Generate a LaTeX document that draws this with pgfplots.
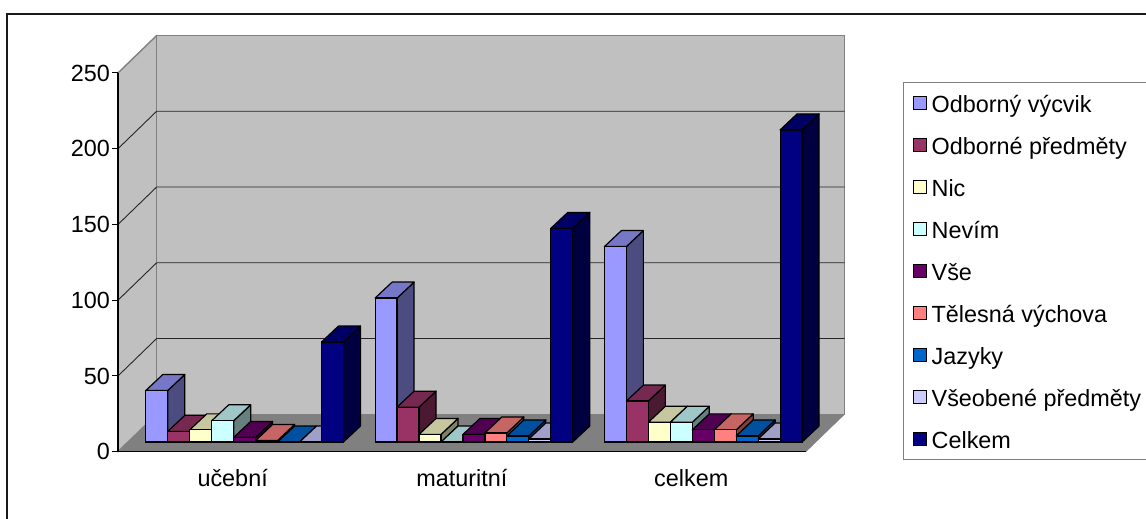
\documentclass[border=0pt]{standalone}
\usepackage{fontspec}
\setmainfont{Liberation Sans}
\usepackage{pgfplots}
\usepackage{pgfplotstable}
\pgfplotsset{compat=1.18}

\definecolor{c1}{HTML}{9999FF}
\definecolor{c2}{HTML}{993366}
\definecolor{c3}{HTML}{FFFFCC}
\definecolor{c4}{HTML}{CCFFFF}
\definecolor{c5}{HTML}{660066}
\definecolor{c6}{HTML}{FF8080}
\definecolor{c7}{HTML}{0066CC}
\definecolor{c8}{HTML}{CCCCFF}
\definecolor{c9}{HTML}{000080}
\definecolor{wall}{HTML}{C0C0C0}
\definecolor{floorc}{HTML}{808080}

\pgfdeclareplotmark{void}{}

\pgfplotstableread{
cat vycvik predmety nic nevim vse telesna jazyky vseob celkem
0   34     7        8   14    3   1       0      0     66
1   95     23       5   0     5   6       4      2     141
2   129    27       13  13    8   8       4      2     206
}\stat

% one bar series: depth faces first, then the front face
\newcommand{\barserie}[3]{%
\addplot[forget plot, only marks, scatter, mark=void,
  visualization depends on={y\as\yv},
  scatter/@pre marker code/.code={%
    \pgfmathsetmacro\hh{\yv*1.515}%
    \pgfmathsetmacro\xl{(#2)*21.96-10.98}%
    \pgfmathsetmacro\xr{(#2)*21.96+10.98}%
    \pgfmathsetmacro\xla{\xl+17}%
    \pgfmathsetmacro\xra{\xr+17}%
    \pgfmathsetmacro\yb{16-\hh}%
    \filldraw[fill=#3!50!black,draw=black,line width=1.2pt,line join=round]
      (\xr pt,0pt)--(\xra pt,16pt)--(\xra pt,\yb pt)--(\xr pt,-\hh pt)--cycle;
    \filldraw[fill=#3!78!black,draw=black,line width=1.2pt,line join=round]
      (\xl pt,0pt)--(\xr pt,0pt)--(\xra pt,16pt)--(\xla pt,16pt)--cycle;
  },
  scatter/@post marker code/.code={}]
  table[x=cat,y=#1]{\stat};
\addplot[ybar, bar width=21.96pt, bar shift=#2*21.96pt, draw=black,
  line width=1.2pt, fill=#3]
  table[x=cat,y=#1]{\stat};
}

\begin{document}
\begin{tikzpicture}[x=1pt,y=1pt]
\useasboundingbox (0,0) rectangle (1146,-519);
\draw[line width=2pt,black!90] (7,-519)--(7,-14)--(1146,-14);

% walls, floor, ticks and labels
\begin{axis}[
  at={(118pt,-451.7pt)}, anchor=south west,
  x=229.3pt, y=1.515pt,
  xmin=-0.5, xmax=2.5, ymin=0, ymax=250,
  clip=false, axis on top=true,
  axis lines=left, axis line style={-,line width=1.2pt,black},
  xtick={0,1,2}, xticklabels={učební,maturitní,celkem},
  minor xtick={-0.5,0.5,1.5,2.5},
  ytick={0,50,...,250},
  tick align=outside, major tick length=5.5pt, minor tick length=6.5pt,
  x tick style={draw=none}, minor x tick style={black,line width=1pt},
  y tick style={black,line width=1pt},
  /pgf/number format/assume math mode=true,
  tick label style={font=\fontsize{23.4}{26}\selectfont},
  xticklabel style={yshift=-9pt,text height=17pt,text depth=5pt},
  yticklabel style={xshift=1pt},
]
\path[fill=wall,draw=floorc,line width=1.4pt,line join=round]
  (axis cs:-0.5,0)--(axis cs:-0.3312,24.75)--(axis cs:-0.3312,274.75)--(axis cs:-0.5,250)--cycle;
\path[fill=wall,draw=floorc,line width=1.4pt]
  (axis cs:-0.3312,24.75) rectangle (axis cs:2.6688,274.75);
\path[fill=floorc,draw=floorc]
  (axis cs:-0.5,0)--(axis cs:-0.3312,24.75)--(axis cs:2.6688,24.75)--(axis cs:2.5,0)--cycle;
\pgfplotsinvokeforeach{50,100,150,200}{
  \draw[black!85,line width=0.9pt]
    (axis cs:-0.5,#1)--(axis cs:-0.3312,#1+24.75)--(axis cs:2.6688,#1+24.75);
}
\end{axis}

% bars, on the plane half way into the depth
\begin{axis}[
  at={(130pt,-442pt)}, anchor=south west,
  x=229.3pt, y=1.515pt,
  xmin=-0.5, xmax=2.5, ymin=0, ymax=250,
  clip=false, clip marker paths=true, hide axis,
  legend cell align=left,
  legend style={at={(1.1237,0.9505)}, anchor=north west, draw=floorc,
    line width=1.3pt, fill=white, inner xsep=9pt, inner ysep=9pt,
    font=\fontsize{23.4}{26}\selectfont,
    /tikz/every even column/.append style={column sep=0pt},
    row sep=19pt,
    nodes={inner sep=0pt,text height=21pt,text depth=2pt,inner xsep=4.7pt}},
  legend image code/.code={%
    \draw[#1,line width=1.3pt] (0pt,-6.5pt) rectangle (13pt,6.5pt);},
]
\barserie{vycvik}{-4}{c1}
\barserie{predmety}{-3}{c2}
\barserie{nic}{-2}{c3}
\barserie{nevim}{-1}{c4}
\barserie{vse}{0}{c5}
\barserie{telesna}{1}{c6}
\barserie{jazyky}{2}{c7}
\barserie{vseob}{3}{c8}
\barserie{celkem}{4}{c9}
\legend{Odborný výcvik,Odborné předměty,Nic,Nevím,Vše,Tělesná výchova,Jazyky,Všeobené předměty,Celkem}
\end{axis}
\end{tikzpicture}
\end{document}
